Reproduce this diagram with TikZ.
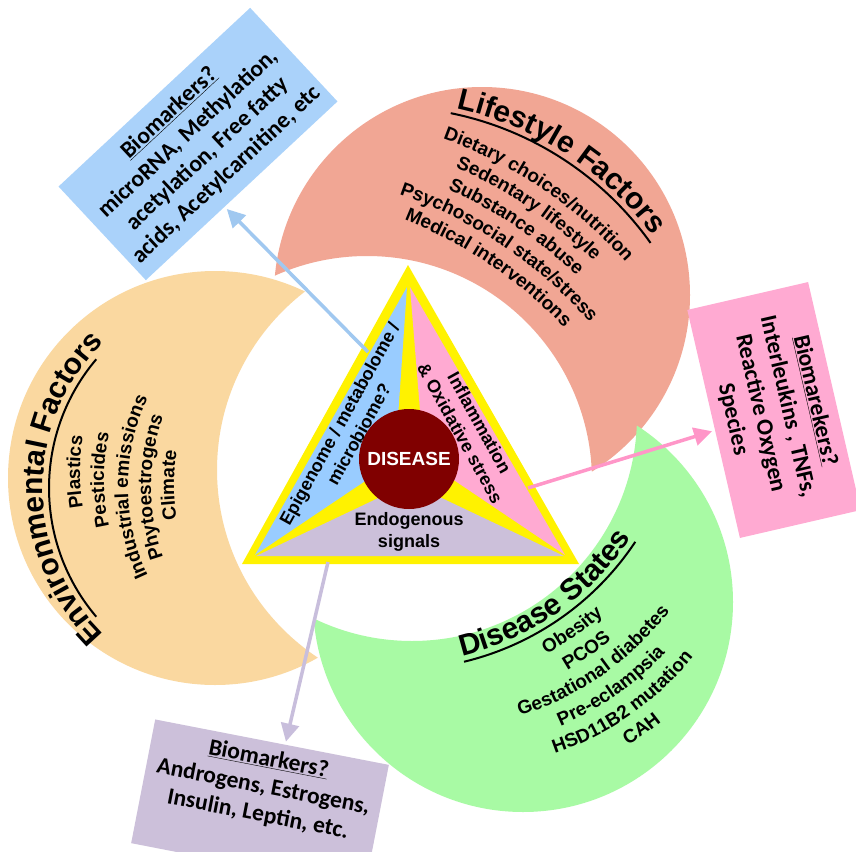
\documentclass[tikz,border=0pt]{standalone}
\usepackage{fontspec}
\setmainfont{Liberation Sans}
\newfontfamily\calibri{Carlito}
\usetikzlibrary{positioning,calc,decorations.text,arrows.meta}

\definecolor{envcol}{RGB}{250,216,160}
\definecolor{lifecol}{RGB}{241,166,148}
\definecolor{discol}{RGB}{168,250,164}
\definecolor{epicol}{RGB}{153,204,255}
\definecolor{infcol}{RGB}{255,170,210}
\definecolor{endcol}{RGB}{204,192,218}
\definecolor{diseasecol}{RGB}{128,0,0}
\definecolor{bluebox}{RGB}{170,210,250}
\definecolor{pinkbox}{RGB}{255,170,210}
\definecolor{lilacbox}{RGB}{204,192,218}
\definecolor{bluearrow}{RGB}{160,200,240}
\definecolor{pinkarrow}{RGB}{255,150,200}
\definecolor{lilacarrow}{RGB}{200,190,220}

\newcommand{\titlefont}{\fontsize{30}{34}\selectfont\bfseries}
\newcommand{\listfont}{\fontsize{19}{22}\selectfont\bfseries}
\newcommand{\boxfont}{\calibri\bfseries\fontsize{23.5}{28}\selectfont}

% arc through #1 heading #2, radius #3, half length #4, style #5
\newcommand{\bowup}[5]{\path[#5] ($#1+(#2+90:#3)+({#2-90-#4/#3*57.2958}:#3)$)
  arc[start angle={#2-90-#4/#3*57.2958}, end angle={#2-90+#4/#3*57.2958}, radius=#3];}
\newcommand{\bowdown}[5]{\path[#5] ($#1+(#2-90:#3)+({#2+90+#4/#3*57.2958}:#3)$)
  arc[start angle={#2+90+#4/#3*57.2958}, end angle={#2+90-#4/#3*57.2958}, radius=#3];}

\begin{document}
\begin{tikzpicture}[x=1pt, y=-1pt,
    arctext/.style={decorate, decoration={text along path, text align=center, text={#1}}},
    rule/.style={draw, line width=2pt},
    tritext/.style={align=center, inner sep=0pt, font=\fontsize{18}{22}\selectfont\bfseries},
    biobox/.style={align=center, inner sep=2pt, font=\boxfont},
    arr/.style={line width=3.5pt, -{Triangle[length=18pt, width=18pt]}, shorten >=3pt}]

  \path[use as bounding box, fill=white] (0,0) rectangle (856,851);

  % crescents
  \begin{scope}
    \clip (215,478) circle[radius=207];
    \fill[envcol, even odd rule] (-50,-50) rectangle (950,950) (442,470) circle[radius=225];
  \end{scope}
  \begin{scope}
    \clip (482,295) circle[radius=208];
    \fill[lifecol, even odd rule] (-50,-50) rectangle (950,950) (367,481) circle[radius=225];
  \end{scope}
  \begin{scope}
    \clip (523,602) circle[radius=210];
    \fill[discol, even odd rule] (-50,-50) rectangle (950,950) (412,416) circle[radius=225];
  \end{scope}

  % environmental factors
  \bowup{(43,488)}{-90}{205}{190}{arctext={|\titlefont|Environmental Factors}}
  \bowup{(49,488)}{-90}{199}{140}{rule}
  \bowup{(80,472)}{-90}{210}{140}{arctext={|\listfont|Plastics}}
  \bowup{(104,480)}{-90}{210}{140}{arctext={|\listfont|Pesticides}}
  \bowup{(128,487)}{-90}{210}{140}{arctext={|\listfont|Industrial emissions}}
  \bowup{(151,487)}{-90}{210}{140}{arctext={|\listfont|Phytoestrogens}}
  \bowup{(174,485)}{-90}{210}{140}{arctext={|\listfont|Climate}}

  % lifestyle factors
  \bowup{(566,154)}{33}{330}{170}{arctext={|\titlefont|Lifestyle Factors}}
  \bowup{(563,159)}{33}{324}{122}{rule}
  \bowup{(542,189)}{34}{450}{160}{arctext={|\listfont|Dietary choices/nutrition}}
  \bowup{(529,208)}{34}{450}{160}{arctext={|\listfont|Sedentary lifestyle}}
  \bowup{(516,227)}{34}{450}{160}{arctext={|\listfont|Substance abuse}}
  \bowup{(503,246)}{34}{450}{160}{arctext={|\listfont|Psychosocial state/stress}}
  \bowup{(490,265)}{34}{450}{160}{arctext={|\listfont|Medical interventions}}

  % disease states
  \bowdown{(558,613)}{-35}{280}{160}{arctext={|\titlefont|Disease States}}
  \bowdown{(561,618)}{-35}{286}{107}{rule}
  \bowdown{(576,636)}{-35}{300}{150}{arctext={|\listfont|Obesity}}
  \bowdown{(590,656)}{-35}{300}{150}{arctext={|\listfont|PCOS}}
  \bowdown{(603,675)}{-35}{300}{150}{arctext={|\listfont|Gestational diabetes}}
  \bowdown{(617,695)}{-35}{300}{150}{arctext={|\listfont|Pre-eclampsia}}
  \bowdown{(631,715)}{-35}{300}{150}{arctext={|\listfont|HSD11B2 mutation}}
  \bowdown{(645,734)}{-35}{300}{150}{arctext={|\listfont|CAH}}

  % triangle
  \fill[yellow] (408,265) -- (242,564) -- (579,564) -- cycle;
  \fill[epicol] (407,287) -- (255,555) -- (395,461) -- cycle;
  \fill[infcol] (410,287) -- (565,555) -- (424,460) -- cycle;
  \fill[endcol] (256,556) -- (564,556) -- (410,483) -- cycle;

  \node[circle, fill=diseasecol, minimum size=100pt, inner sep=0pt, text=white,
        font=\fontsize{19}{22}\selectfont\bfseries] (disease) at (409,459) {DISEASE};
  \node[tritext, rotate=61] (epi) at (349,429) {Epigenome / metabolome /\\microbiome?};
  \node[tritext, rotate=-61] (infl) at (470,428) {Inflammation\\\& Oxidative stress};
  \node[tritext, below=3pt of disease] (endo) {Endogenous\\signals};

  % biomarker boxes
  \node[biobox, fill=bluebox, rotate=43, minimum width=262pt, minimum height=128pt] (blueBio) at (198,144)
    {\underline{Biomarkers?}\\microRNA, Methylation,\\acetylation, Free fatty\\acids, Acetylcarnitine, etc};
  \node[biobox, fill=pinkbox, rotate=-77, minimum width=234pt, minimum height=124pt] (pinkBio) at (774,410)
    {\underline{Biomarekers?}\\Interleukins , TNFs,\\Reactive Oxygen\\Species};
  \node[biobox, fill=lilacbox, rotate=-11, minimum width=238pt, minimum height=126pt] (lilacBio) at (260,804)
    {\underline{Biomarkers?}\\Androgens, Estrogens,\\Insulin, Leptin, etc.\rule[-38pt]{0pt}{0pt}};

  \coordinate (epiend) at (368,352);
  \coordinate (inflend) at (528,488);
  \coordinate (endoend) at (328,562);
  \draw[arr, bluearrow] (epiend) -- (blueBio.-110);
  \draw[arr, pinkarrow] (inflend) -- (pinkBio.-84);
  \draw[arr, lilacarrow] (endoend) -- (lilacBio.78);
\end{tikzpicture}
\end{document}
